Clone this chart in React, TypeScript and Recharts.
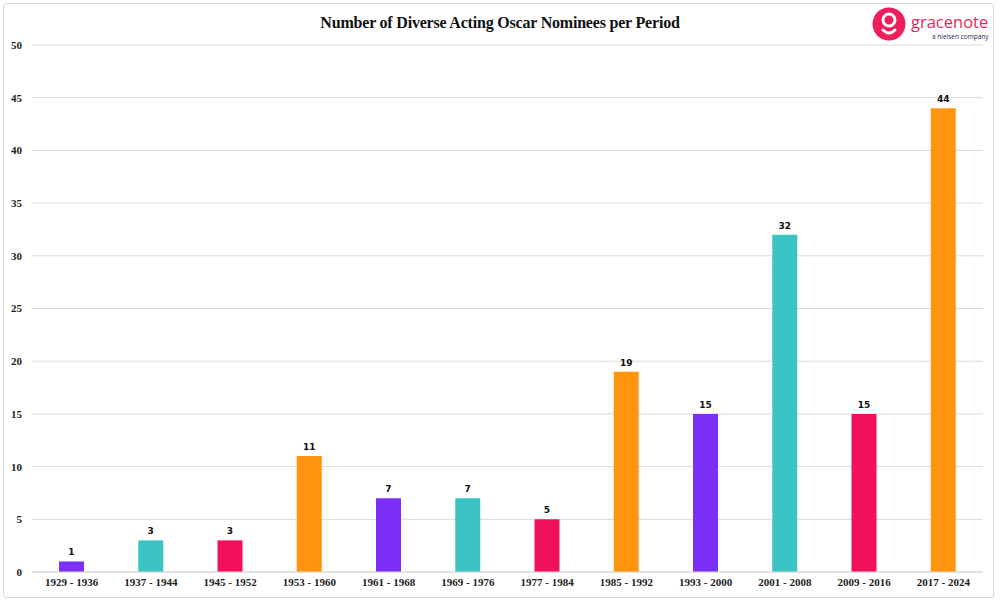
import React from "react";
import { BarChart, Bar, XAxis, YAxis, CartesianGrid, LabelList, Cell } from "recharts";

const periods = [
  "1929 - 1936", "1937 - 1944", "1945 - 1952", "1953 - 1960", "1961 - 1968", "1969 - 1976",
  "1977 - 1984", "1985 - 1992", "1993 - 2000", "2001 - 2008", "2009 - 2016", "2017 - 2024",
];
const nominees = [1, 3, 3, 11, 7, 7, 5, 19, 15, 32, 15, 44];
const palette = ["#7B2FF7", "#3CC4C4", "#F2105A", "#FF940F"];
const yTicks = [0, 5, 10, 15, 20, 25, 30, 35, 40, 45, 50];

const data = periods.map((p, i) => ({ period: p, value: nominees[i] }));

const serif = "'Liberation Serif', 'DejaVu Serif', serif";

export default function App() {
  return (
    <div style={{ position: "absolute", left: 0, top: 0, width: 1000, height: 603, background: "#fff", overflow: "hidden" }}>
      <div
        style={{
          position: "absolute", left: 3, top: 3, width: 991, height: 595,
          border: "1px solid #d9d9d9", borderRadius: 3, boxSizing: "border-box",
        }}
      />
      <div
        style={{
          position: "absolute", left: 0, top: 14, width: 1000, textAlign: "center",
          fontFamily: serif, fontWeight: 700, fontSize: 16, color: "#111", letterSpacing: -0.2,
        }}
      >
        Number of Diverse Acting Oscar Nominees per Period
      </div>
      <div style={{ position: "absolute", left: 872, top: 7 }}>
        <svg width={124} height={38}>
          <circle cx={17} cy={17} r={16.5} fill="#EE1E5B" />
          <circle cx={17} cy={13} r={6} fill="none" stroke="#fff" strokeWidth={3} />
          <path d="M11 23 Q17 29 23 23" fill="none" stroke="#fff" strokeWidth={3} strokeLinecap="round" />
          <text x={39} y={21} fontFamily="'Open Sans', sans-serif" fontSize={16.5} fill="#EE1E5B">gracenote</text>
          <text x={60} y={32} fontFamily="'Open Sans', sans-serif" fontSize={6.5} fill="#1f2a55">a nielsen company</text>
        </svg>
      </div>
      <div style={{ position: "absolute", left: 0, top: 0 }}>
        <BarChart
          width={1000}
          height={603}
          data={data}
          margin={{ top: 45, right: 17, bottom: 6, left: 0 }}
          barCategoryGap="34%"
        >
          <CartesianGrid vertical={false} stroke="#d9d9d9" strokeWidth={1} />
          <XAxis
            dataKey="period"
            axisLine={{ stroke: "#d9d9d9" }}
            tickLine={false}
            tickSize={0}
            tickMargin={6}
            height={25}
            interval={0}
            tick={{ fontFamily: serif, fontWeight: 700, fontSize: 11, fill: "#222" }}
          />
          <YAxis
            width={32}
            domain={[0, 50]}
            ticks={yTicks}
            axisLine={false}
            tickLine={false}
            tickSize={0}
            tickMargin={10}
            tick={{ fontFamily: serif, fontWeight: 700, fontSize: 11, fill: "#222" }}
          />
          <Bar dataKey="value" isAnimationActive={false} barSize={25}>
            {data.map((d, i) => (
              <Cell key={d.period} fill={palette[i % palette.length]} />
            ))}
            <LabelList
              dataKey="value"
              position="top"
              offset={6}
              style={{ fontFamily: "'DejaVu Sans', sans-serif", fontWeight: 700, fontSize: 9, fill: "#111" }}
            />
          </Bar>
        </BarChart>
      </div>
    </div>
  );
}
